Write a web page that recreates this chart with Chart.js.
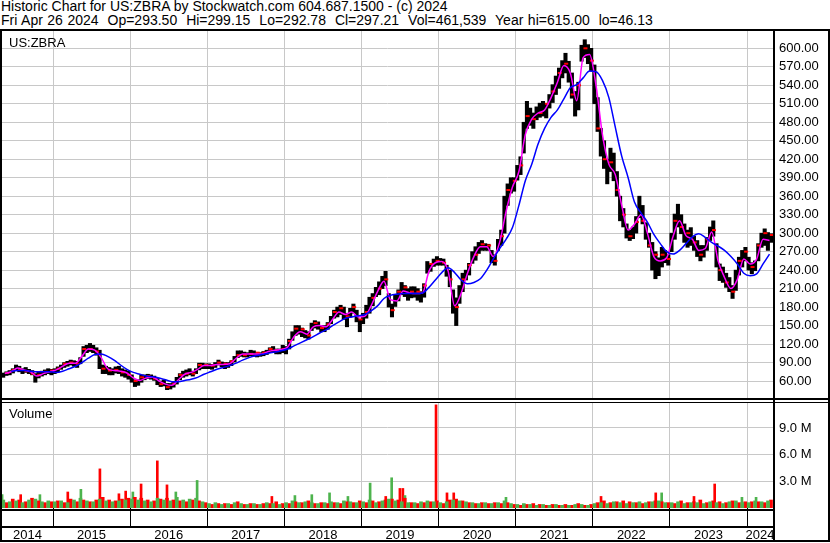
<!DOCTYPE html>
<html>
<head>
<meta charset="utf-8">
<title>Historic Chart for US:ZBRA</title>
<script src="https://cdn.jsdelivr.net/npm/chart.js"></script>
<style>
    body { margin: 0; background: #fff; font-family: "Liberation Sans", Arial, sans-serif; }
    #wrap { position: relative; width: 830px; height: 543px; overflow: hidden; background: #fff; }
    .hdr { position: absolute; left: 1px; font-size: 14px; line-height: 13px; white-space: pre; color: #000; }
    .lbl { position: absolute; left: 9px; font-size: 13px; line-height: 13px; color: #000; z-index: 3; }
    .ln { position: absolute; background: #000; z-index: 3; }
    canvas { position: absolute; left: 0; z-index: 1; }
</style>
</head>
<body>
<div id="wrap">
    <div class="hdr" style="top:0">Historic Chart for US:ZBRA by Stockwatch.com 604.687.1500 - (c) 2024</div>
    <div class="hdr" style="top:14px;word-spacing:0.6px">Fri Apr 26 2024  Op=293.50  Hi=299.15  Lo=292.78  Cl=297.21  Vol=461,539  Year hi=615.00  lo=46.13</div>
    <canvas id="price" width="830" height="371" style="top:29px"></canvas>
    <canvas id="volume" width="830" height="143" style="top:400px"></canvas>
    <div class="lbl" style="top:36px">US:ZBRA</div>
    <div class="lbl" style="top:407px">Volume</div>
    <!-- frame -->
    <div class="ln" style="left:0;top:29px;width:830px;height:2px"></div>
    <div class="ln" style="left:0;top:29px;width:2px;height:513px"></div>
    <div class="ln" style="left:773px;top:29px;width:2px;height:513px"></div>
    <div class="ln" style="left:828px;top:29px;width:2px;height:513px"></div>
    <div class="ln" style="left:0;top:398px;width:830px;height:2px"></div>
    <div class="ln" style="left:0;top:402px;width:830px;height:1px"></div>
    <div class="ln" style="left:0;top:509px;width:775px;height:2px"></div>
    <div class="ln" style="left:0;top:526px;width:775px;height:2px"></div>
    <div class="ln" style="left:0;top:540px;width:830px;height:2px"></div>
</div>

<script>
    // May 2014 .. Apr 2024
    const months = [
        '2014-05','2014-06','2014-07','2014-08','2014-09','2014-10','2014-11','2014-12',
        '2015-01','2015-02','2015-03','2015-04','2015-05','2015-06','2015-07','2015-08','2015-09','2015-10','2015-11','2015-12',
        '2016-01','2016-02','2016-03','2016-04','2016-05','2016-06','2016-07','2016-08','2016-09','2016-10','2016-11','2016-12',
        '2017-01','2017-02','2017-03','2017-04','2017-05','2017-06','2017-07','2017-08','2017-09','2017-10','2017-11','2017-12',
        '2018-01','2018-02','2018-03','2018-04','2018-05','2018-06','2018-07','2018-08','2018-09','2018-10','2018-11','2018-12',
        '2019-01','2019-02','2019-03','2019-04','2019-05','2019-06','2019-07','2019-08','2019-09','2019-10','2019-11','2019-12',
        '2020-01','2020-02','2020-03','2020-04','2020-05','2020-06','2020-07','2020-08','2020-09','2020-10','2020-11','2020-12',
        '2021-01','2021-02','2021-03','2021-04','2021-05','2021-06','2021-07','2021-08','2021-09','2021-10','2021-11','2021-12',
        '2022-01','2022-02','2022-03','2022-04','2022-05','2022-06','2022-07','2022-08','2022-09','2022-10','2022-11','2022-12',
        '2023-01','2023-02','2023-03','2023-04','2023-05','2023-06','2023-07','2023-08','2023-09','2023-10','2023-11','2023-12',
        '2024-01','2024-02','2024-03','2024-04'
    ];

    // price range per half month (two entries per month: 1st half, 2nd half)
    const halfHigh = [
        73,75, 77,80, 86,84, 80,82, 79,77, 72,75, 76,78, 80,79,
        80,83, 86,90, 92,94, 93,92, 98,116, 118,121, 118,114, 110,86, 84,82, 80,83, 84,80, 78,76,
        70,62, 62,70, 70,71, 70,68, 64,60, 62,56, 56,59, 66,72, 76,78, 80,76, 80,89, 89,88,
        88,87, 90,94, 91,90, 90,93, 100,109, 109,107, 106,110, 109,106, 106,108, 110,114, 116,112, 112,118,
        116,128, 140,150, 150,146, 142,140, 154,158, 156,150, 150,155, 165,175, 180,183, 180,170, 178,185, 175,160,
        170,183, 196,202, 212,221, 230,238, 202,185, 200,208, 220,215, 210,213, 213,210, 205,218, 254,250, 258,262,
        259,258, 248,240, 208,195, 215,235, 240,251, 270,278, 285,288, 283,282, 272,265, 290,305, 360,380, 390,390,
        410,424, 480,514, 503,495, 505,511, 514,510, 525,541, 555,568, 580,592, 579,560, 530,545, 605,614, 606,600,
        573,520, 470,450, 420,438, 430,400, 360,340, 315,305, 310,327, 360,345, 317,300, 285,270, 260,277, 272,265,
        300,331, 347,330, 315,305, 309,295, 288,280, 280,293, 310,320, 283,250, 245,235, 228,215, 240,261, 272,277,
        261,252, 255,283, 300,307, 301,299
    ];
    const halfLow = [
        66,69, 70,73, 77,75, 72,74, 72,70, 58,65, 68,70, 72,70,
        72,75, 79,82, 84,86, 84,82, 88,100, 106,108, 106,102, 80,72, 72,70, 70,73, 72,68, 66,63,
        58,51, 53,58, 62,64, 63,61, 54,51, 52,46, 47,50, 55,62, 66,68, 70,68, 72,78, 80,80,
        80,79, 82,86, 83,80, 82,85, 91,98, 100,99, 99,101, 100,99, 100,101, 103,106, 106,104, 104,106,
        104,112, 126,134, 136,132, 130,128, 142,146, 144,140, 140,144, 153,162, 164,168, 160,148, 164,170, 156,140,
        153,162, 170,182, 197,200, 210,215, 180,164, 181,190, 200,197, 191,195, 196,191, 188,196, 235,238, 246,248,
        248,248, 230,213, 170,150, 186,205, 224,232, 251,256, 267,272, 272,272, 252,248, 272,280, 300,345, 365,368,
        386,395, 430,470, 475,470, 484,488, 490,487, 503,512, 525,535, 552,560, 545,519, 490,500, 579,585, 575,563,
        510,465, 425,405, 380,400, 385,360, 320,310, 292,288, 291,300, 325,315, 290,277, 240,226, 231,245, 252,248,
        270,290, 310,299, 285,277, 280,272, 262,255, 261,272, 288,295, 245,223, 220,212, 205,194, 207,232, 245,255,
        240,234, 239,255, 277,280, 272,285
    ];
    const priceClose = [
        73, 78, 79, 76, 72, 70, 75, 77,
        80, 88, 90, 88, 112, 112, 108, 80, 77, 78, 74, 70,
        60, 66, 68, 64, 55, 50, 56, 70, 72, 72, 86, 86,
        85, 90, 88, 92, 102, 102, 104, 106, 106, 112, 110, 112,
        125, 145, 144, 134, 154, 146, 152, 172, 178, 165, 180, 160,
        172, 195, 210, 225, 175, 205, 212, 205, 205, 215, 250, 255,
        252, 225, 180, 225, 248, 265, 282, 280, 255, 295, 370, 385,
        410, 490, 485, 495, 510, 530, 560, 575, 525, 540, 600, 580,
        470, 420, 415, 370, 330, 295, 318, 320, 280, 265, 265, 258,
        320, 310, 300, 285, 265, 290, 305, 240, 220, 205, 255, 270,
        245, 280, 300, 297
    ];
    // short (magenta) and long (blue) moving averages
    const maFast = [
        72, 75, 81, 78, 75, 68, 72, 75,
        78, 84, 89, 89, 100, 112, 110, 98, 80, 77, 76, 73,
        65, 61, 65, 66, 60, 55, 53, 62, 71, 74, 79, 85,
        85, 87, 87, 88, 97, 104, 104, 104, 104, 108, 110, 111,
        115, 132, 140, 136, 148, 150, 148, 160, 172, 168, 172, 164,
        165, 182, 205, 222, 192, 190, 206, 203, 202, 203, 238, 252,
        254, 238, 182, 202, 235, 262, 278, 278, 262, 285, 335, 375,
        400, 460, 485, 495, 500, 520, 545, 572, 560, 515, 585, 590,
        540, 460, 412, 395, 345, 305, 315, 330, 300, 262, 255, 260,
        295, 320, 296, 290, 272, 275, 302, 255, 228, 210, 225, 258,
        250, 258, 290, 288
    ];
    const maSlow = [
        null, 76, 77, 77, 76, 75, 75, 75,
        74, 76, 80, 84, 90, 97, 103, 104, 100, 94, 86, 79,
        74, 71, 68, 67, 65, 62, 59, 59, 61, 63, 66, 71,
        75, 79, 82, 85, 89, 94, 98, 101, 103, 105, 107, 109,
        112, 117, 122, 127, 132, 138, 143, 150, 156, 162, 164, 166,
        168, 174, 182, 194, 199, 201, 202, 202, 202, 203, 212, 224,
        236, 244, 236, 224, 218, 220, 226, 240, 258, 275, 290, 309,
        345, 385, 412, 445, 470, 488, 500, 518, 536, 541, 552, 563,
        562, 548, 520, 472, 425, 390, 350, 333, 318, 298, 283, 270,
        266, 272, 283, 294, 299, 293, 285, 279, 272, 262, 250, 235,
        231, 234, 250, 266
    ];

    // typical volume per month (millions), up days and down days
    const volUp = [
        0.9, 0.7, 0.8, 0.6, 0.9, 1.0, 0.7, 0.8,
        0.7, 0.8, 0.6, 0.9, 1.1, 0.8, 0.7, 1.0, 0.8, 0.7, 0.8, 0.9,
        1.0, 0.9, 0.8, 0.7, 1.1, 0.9, 0.8, 1.2, 0.9, 1.0, 1.1, 0.7,
        0.5, 0.6, 0.4, 0.5, 0.6, 0.5, 0.4, 0.5, 0.4, 0.6, 0.5, 0.4,
        0.6, 0.8, 0.6, 0.7, 0.6, 0.5, 0.6, 0.7, 0.6, 0.8, 0.7, 0.6,
        0.7, 0.9, 0.6, 0.8, 1.0, 0.8, 0.7, 0.6, 0.6, 0.7, 0.8, 0.7,
        0.6, 0.7, 0.9, 0.8, 0.7, 0.6, 0.5, 0.6, 0.5, 0.6, 0.8, 0.5,
        0.4, 0.5, 0.4, 0.3, 0.4, 0.3, 0.4, 0.3, 0.3, 0.4, 0.4, 0.3,
        0.5, 0.6, 0.5, 0.7, 0.6, 0.5, 0.6, 0.7, 0.6, 0.7, 0.8, 0.6,
        0.6, 0.7, 0.5, 0.6, 0.6, 0.5, 0.7, 0.6, 0.5, 0.7, 0.8, 0.6,
        0.6, 0.8, 0.7, 0.8
    ];
    const volDown = [
        0.6, 1.0, 0.9, 0.7, 1.1, 0.8, 0.6, 0.7,
        0.8, 0.6, 1.0, 0.7, 0.9, 0.7, 0.9, 1.2, 0.9, 0.8, 1.0, 1.1,
        1.2, 1.1, 0.9, 0.8, 1.0, 1.1, 0.9, 0.8, 0.7, 0.9, 0.8, 0.6,
        0.4, 0.5, 0.5, 0.4, 0.7, 0.4, 0.5, 0.4, 0.5, 0.5, 0.7, 0.5,
        0.5, 0.7, 0.6, 0.8, 0.5, 0.6, 0.5, 0.6, 0.5, 0.7, 0.6, 0.8,
        0.6, 0.8, 0.7, 0.9, 1.0, 0.9, 1.1, 0.6, 0.5, 0.6, 0.7, 0.8,
        0.5, 0.9, 1.0, 0.8, 0.6, 0.5, 0.6, 0.5, 0.6, 0.5, 0.6, 0.4,
        0.3, 0.4, 0.5, 0.4, 0.3, 0.4, 0.3, 0.4, 0.3, 0.5, 0.3, 0.4,
        0.6, 0.8, 0.6, 0.7, 0.8, 0.7, 0.6, 0.5, 0.7, 0.8, 0.7, 0.6,
        0.5, 0.8, 0.6, 0.7, 0.9, 0.6, 0.8, 0.7, 0.6, 0.8, 0.6, 0.7,
        0.7, 0.7, 0.6, 0.9
    ];
    // single heavy-volume days
    const spikeUpDates = ['2014-05-05','2014-10-31','2015-05-13','2016-01-14','2016-08-05','2016-11-14','2018-02-20','2018-05-11','2018-08-03','2018-10-29','2019-02-11','2019-05-24','2019-07-26','2020-11-16','2022-11-23','2023-12-08','2024-02-13'];
    const spikeUpVol   = [1.5, 1.5, 2.1, 1.8, 1.8, 3.1, 1.4, 1.5, 1.7, 1.3, 2.8, 3.4, 1.4, 1.2, 1.7, 1.2, 1.2];
    const spikeDownDates = ['2014-08-01','2015-03-12','2015-08-11','2015-11-09','2015-12-11','2016-02-22','2016-05-09','2016-06-24','2017-11-03','2019-04-26','2019-07-02','2019-07-16','2019-12-20','2020-02-10','2020-03-13','2022-02-09','2022-10-26','2023-04-25','2023-08-01'];
    const spikeDownVol   = [1.5, 1.8, 4.4, 1.6, 1.9, 2.7, 5.3, 2.6, 1.3, 1.3, 2.2, 2.2, 11.6, 1.7, 1.7, 1.3, 1.7, 1.3, 2.7];

    const yearBreaks = [2015, 2016, 2017, 2018, 2019, 2020, 2021, 2022, 2023, 2024];
    const yearLabels = ['2014', '2015', '2016', '2017', '2018', '2019', '2020', '2021', '2022', '2023', '2024'];
    const priceTicks = [60, 90, 120, 150, 180, 210, 240, 270, 300, 330, 360, 390, 420, 450, 480, 510, 540, 570, 600];
    const volTicks = [3, 6, 9];

    const X_MIN = 2014.3385, X_MAX = 2024.337;
    const GRID = '#c8c8c8';
    const RIGHT_AXIS = 57;

    Chart.defaults.font.family = '"Liberation Sans", Arial, sans-serif';
    Chart.defaults.font.size = 13;
    Chart.defaults.color = '#000';

    function monthPos(m) {
        const [y, mo] = m.split('-').map(Number);
        return y + (mo - 0.5) / 12;
    }
    const halfPos = i => monthPos(months[i >> 1]) + ((i & 1) ? 1 : -1) / 48;
    function dayPos(d) {
        const t = Date.parse(d + 'T00:00:00Z');
        const y = new Date(t).getUTCFullYear();
        const a = Date.UTC(y, 0, 1), b = Date.UTC(y + 1, 0, 1);
        return y + (t - a) / (b - a);
    }
    const setTicks = arr => scale => { scale.ticks = arr.map(v => ({ value: v })); };
    const noPad = s => { s.paddingTop = 0; s.paddingBottom = 0; s.paddingLeft = 0; s.paddingRight = 0; };

    // price panel
    new Chart(document.getElementById('price'), {
        type: 'bar',
        data: {
            datasets: [{
                type: 'line',
                data: months.map((m, i) => ({ x: monthPos(m), y: maSlow[i] })),
                borderColor: '#0000ff',
                borderWidth: 1.5,
                pointRadius: 0,
                cubicInterpolationMode: 'monotone',
                order: 0
            }, {
                type: 'line',
                data: months.map((m, i) => ({ x: monthPos(m), y: maFast[i] })),
                borderColor: '#ff00ff',
                borderWidth: 1.5,
                pointRadius: 0,
                cubicInterpolationMode: 'monotone',
                order: 1
            }, {
                type: 'line',
                data: months.map((m, i) => ({ x: monthPos(m) + 0.03, y: priceClose[i] })),
                showLine: false,
                pointStyle: 'line',
                pointRadius: 2,
                pointBorderColor: '#ff0000',
                pointBorderWidth: 2,
                order: 2
            }, {
                type: 'bar',
                data: halfHigh.map((h, i) => ({ x: halfPos(i), y: [halfLow[i], h] })),
                backgroundColor: '#000',
                barThickness: 3.4,
                order: 3
            }]
        },
        options: {
            responsive: false,
            animation: false,
            layout: { autoPadding: false, padding: { top: 2, left: 2, right: 0, bottom: 0 } },
            plugins: { legend: { display: false }, tooltip: { enabled: false } },
            scales: {
                x: {
                    type: 'linear', min: X_MIN, max: X_MAX, offset: false,
                    grid: { color: GRID, offset: false, drawTicks: false },
                    border: { display: false },
                    ticks: { display: false },
                    afterBuildTicks: setTicks(yearBreaks),
                    afterFit: s => { noPad(s); s.height = 0; }
                },
                y: {
                    type: 'linear', position: 'right', min: 29.2, max: 628.1,
                    grid: { color: GRID, drawTicks: false },
                    border: { display: false },
                    afterBuildTicks: setTicks(priceTicks),
                    ticks: { padding: 6, autoSkip: false, callback: v => v.toFixed(2) },
                    afterFit: s => { noPad(s); s.width = RIGHT_AXIS; }
                }
            }
        }
    });

    // volume panel + year axis
    const labelPos = yearLabels.map((y, i) => {
        const yr = Number(y);
        if (i === 0) return (X_MIN + yr + 1) / 2;
        if (i === yearLabels.length - 1) return (yr + X_MAX) / 2;
        return yr + 0.5;
    });

    new Chart(document.getElementById('volume'), {
        type: 'bar',
        data: {
            datasets: [{
                data: months.map((m, i) => ({ x: monthPos(m), y: volUp[i] })),
                backgroundColor: '#4db34d',
                barThickness: 3,
                yAxisID: 'yv'
            }, {
                data: months.map((m, i) => ({ x: monthPos(m), y: volDown[i] })),
                backgroundColor: '#ff0000',
                barThickness: 3,
                yAxisID: 'yv'
            }, {
                data: spikeUpDates.map((d, i) => ({ x: dayPos(d), y: spikeUpVol[i] })),
                backgroundColor: '#4db34d',
                grouped: false,
                barThickness: 2,
                yAxisID: 'yv'
            }, {
                data: spikeDownDates.map((d, i) => ({ x: dayPos(d), y: spikeDownVol[i] })),
                backgroundColor: '#ff0000',
                grouped: false,
                barThickness: 2,
                yAxisID: 'yv'
            }]
        },
        options: {
            responsive: false,
            animation: false,
            layout: { autoPadding: false, padding: { top: 3, left: 2, right: 0, bottom: 2 } },
            plugins: { legend: { display: false }, tooltip: { enabled: false } },
            scales: {
                x: {
                    type: 'linear', position: 'bottom', weight: 0,
                    min: X_MIN, max: X_MAX, offset: false,
                    grid: { color: GRID, offset: false, tickColor: '#000', tickLength: 19 },
                    border: { display: false },
                    ticks: { display: false },
                    afterBuildTicks: setTicks(yearBreaks),
                    afterFit: s => { noPad(s); s.height = 19; }
                },
                x2: {
                    type: 'linear', position: 'bottom', weight: 1,
                    min: X_MIN, max: X_MAX, offset: false,
                    grid: { display: false, drawTicks: false },
                    border: { display: false },
                    afterBuildTicks: setTicks(labelPos),
                    ticks: { autoSkip: false, maxRotation: 0, padding: 1, callback: (v, i) => yearLabels[i] },
                    afterFit: s => { noPad(s); s.height = 14; }
                },
                yv: {
                    type: 'linear', position: 'right', min: 0, max: 11.81,
                    grid: { color: GRID, drawTicks: false },
                    border: { display: false },
                    afterBuildTicks: setTicks(volTicks),
                    ticks: { padding: 6, autoSkip: false, callback: v => v.toFixed(1) + ' M' },
                    afterFit: s => { noPad(s); s.width = RIGHT_AXIS; }
                }
            }
        }
    });
</script>
</body>
</html>
